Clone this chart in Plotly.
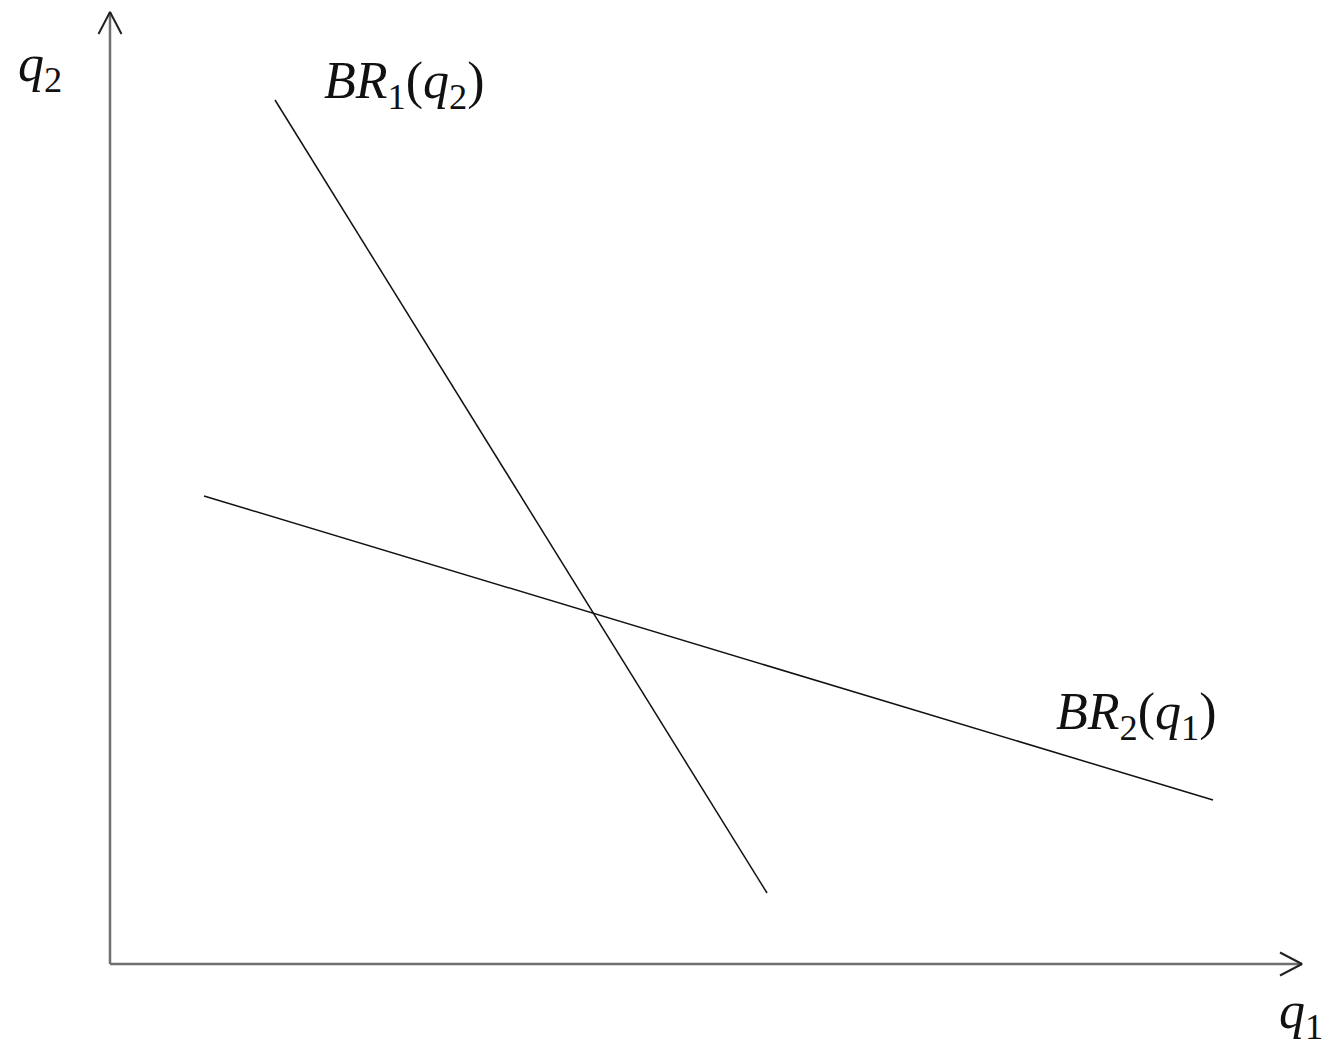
import plotly.graph_objects as go

# Best-response functions (endpoints in quantity units)
br1_q1 = [1.65, 6.57]
br1_q2 = [8.64, 0.71]
br2_q1 = [0.94, 11.03]
br2_q2 = [4.68, 1.64]

# Axis extents
x_axis_end = 11.92
y_axis_end = 9.52

fig = go.Figure()

axis_color = "#707070"
# Quantity axes
fig.add_trace(go.Scatter(x=[0, x_axis_end], y=[0, 0], mode="lines",
                         line=dict(color=axis_color, width=2.5), hoverinfo="skip"))
fig.add_trace(go.Scatter(x=[0, 0], y=[0, y_axis_end], mode="lines",
                         line=dict(color=axis_color, width=2.5), hoverinfo="skip"))

# Open arrow heads at the axis ends
ah = 0.22
aw = 0.115
fig.add_trace(go.Scatter(x=[x_axis_end - ah, x_axis_end, x_axis_end - ah],
                         y=[aw, 0, -aw], mode="lines",
                         line=dict(color="#222", width=2), hoverinfo="skip"))
fig.add_trace(go.Scatter(x=[-aw, 0, aw],
                         y=[y_axis_end - ah, y_axis_end, y_axis_end - ah], mode="lines",
                         line=dict(color="#222", width=2), hoverinfo="skip"))

# Reaction curves
fig.add_trace(go.Scatter(x=br1_q1, y=br1_q2, mode="lines",
                         line=dict(color="#111", width=1.5), hoverinfo="skip"))
fig.add_trace(go.Scatter(x=br2_q1, y=br2_q2, mode="lines",
                         line=dict(color="#111", width=1.5), hoverinfo="skip"))

font = dict(family="Liberation Serif, Times New Roman, serif", size=52, color="#111")

def label(x, y, text):
    fig.add_annotation(x=x, y=y, text=text, showarrow=False, font=font,
                       xanchor="center", yanchor="middle")

label(-0.70, 8.97, "<i>q</i><sub>2</sub>")
label(11.91, -0.50, "<i>q</i><sub>1</sub>")
label(2.94, 8.80, "<i>BR</i><sub>1</sub>(<i>q</i><sub>2</sub>)")
label(10.26, 2.49, "<i>BR</i><sub>2</sub>(<i>q</i><sub>1</sub>)")

fig.update_layout(
    width=1338, height=1047,
    margin=dict(l=0, r=0, t=0, b=0),
    paper_bgcolor="white", plot_bgcolor="white",
    showlegend=False,
    xaxis=dict(range=[-1.10, 12.28], visible=False, fixedrange=True),
    yaxis=dict(range=[-0.83, 9.64], visible=False, fixedrange=True),
)

fig.write_html("out.html")
